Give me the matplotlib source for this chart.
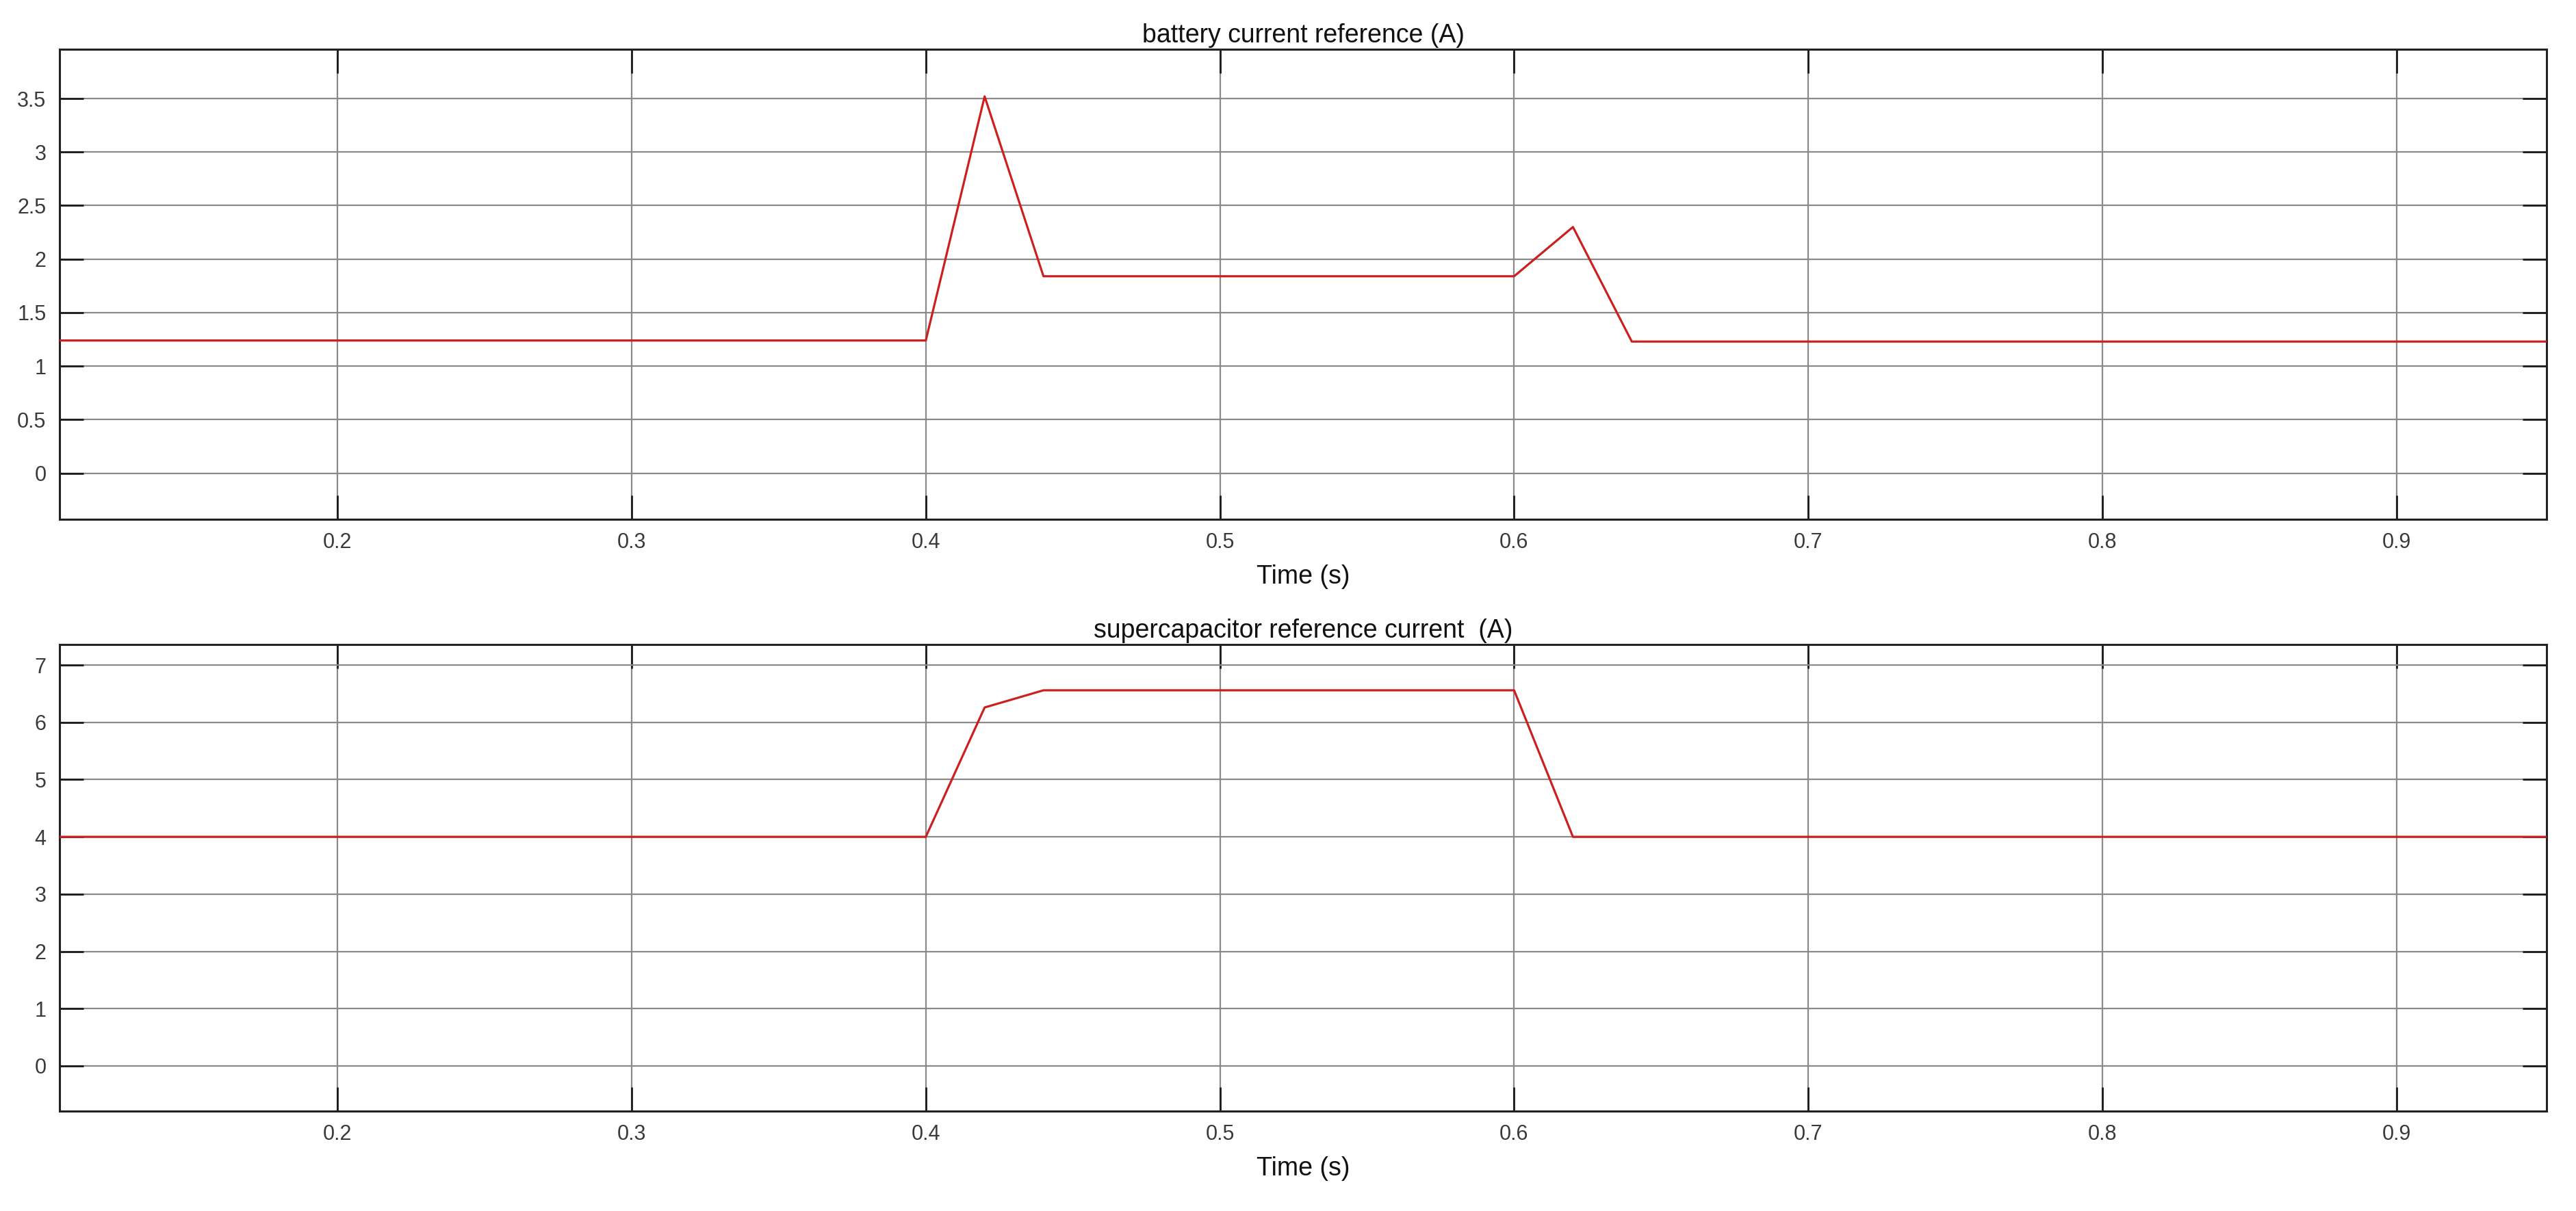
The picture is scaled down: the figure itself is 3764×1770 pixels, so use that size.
import matplotlib
matplotlib.use("Agg")
import matplotlib.pyplot as plt
import numpy as np

# battery current reference (A)
t_bat = [0.0, 0.40, 0.42, 0.44, 0.60, 0.62, 0.64, 1.0]
i_bat = [1.24, 1.24, 3.52, 1.84, 1.84, 2.30, 1.23, 1.23]

# supercapacitor reference current (A)
t_sc = [0.0, 0.40, 0.42, 0.44, 0.60, 0.62, 1.0]
i_sc = [4.0, 4.0, 6.26, 6.56, 6.56, 4.0, 4.0]

xticks = [0.2, 0.3, 0.4, 0.5, 0.6, 0.7, 0.8, 0.9]
xtick_labels = ["0.2", "0.3", "0.4", "0.5", "0.6", "0.7", "0.8", "0.9"]
yticks_bat = [0, 0.5, 1, 1.5, 2, 2.5, 3, 3.5]
ytick_labels_bat = ["0", "0.5", "1", "1.5", "2", "2.5", "3", "3.5"]
yticks_sc = [0, 1, 2, 3, 4, 5, 6, 7]
ytick_labels_sc = ["0", "1", "2", "3", "4", "5", "6", "7"]

titles = ["battery current reference (A)", "supercapacitor reference current  (A)"]
xlabel = "Time (s)"

plt.rcParams['font.family'] = ['Liberation Sans', 'DejaVu Sans']

fig = plt.figure(figsize=(37.64, 17.70), dpi=100)
ax1 = fig.add_axes([0.0231, 0.5712, 0.9655, 0.3881])
ax2 = fig.add_axes([0.0231, 0.0825, 0.9655, 0.3853])

panels = [
    (ax1, t_bat, i_bat, yticks_bat, ytick_labels_bat, (-0.43, 3.96), titles[0]),
    (ax2, t_sc, i_sc, yticks_sc, ytick_labels_sc, (-0.79, 7.36), titles[1]),
]

for ax, t, y, yt, ytl, ylim, title in panels:
    ax.plot(t, y, color='#cc1f1f', lw=2.3, zorder=3)
    ax.set_xlim(0.1055, 0.951)
    ax.set_ylim(*ylim)
    ax.set_xticks(xticks)
    ax.set_xticklabels(xtick_labels)
    ax.set_yticks(yt)
    ax.set_yticklabels(ytl)
    ax.grid(True, color='#8a8a8a', lw=1.6, zorder=0)
    ax.set_axisbelow(True)
    ax.tick_params(direction='in', length=25, width=2, color='#1a1a1a',
                   top=True, right=True, labelsize=22, labelcolor='#3a3a3a',
                   pad=14)
    for s in ax.spines.values():
        s.set_linewidth(2.2)
        s.set_color('#222222')
    ax.set_title(title, fontsize=27, color='#111111', pad=7)
    ax.set_xlabel(xlabel, fontsize=27, color='#111111', labelpad=12)

fig.savefig("out.png", dpi=100)
